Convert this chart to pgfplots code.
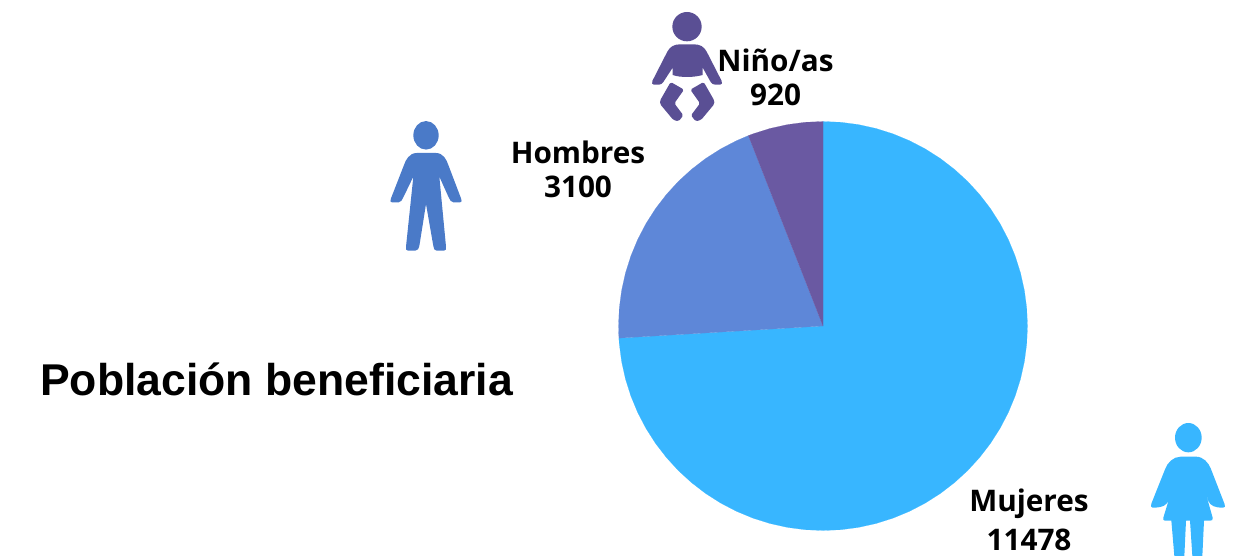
\documentclass[border=0pt]{standalone}
\usepackage{pgfplots}
\pgfplotsset{compat=1.18}
\usepgfplotslibrary{polar}
\usepackage{fontspec}
\setmainfont{Open Sans}
\newfontfamily\titlefont{Liberation Sans}
\definecolor{cMuj}{HTML}{38B6FF}
\definecolor{cHom}{HTML}{5E87D8}
\definecolor{cNin}{HTML}{6A59A2}
\definecolor{iBaby}{HTML}{5A4F94}
\definecolor{iMan}{HTML}{4A7AC8}
\begin{document}
\begin{tikzpicture}
\useasboundingbox (0pt,0pt) rectangle (930.75pt,417pt);
\begin{polaraxis}[
  at={(617.25pt,172.5pt)}, anchor=center,
  scale only axis, width=306.75pt, height=306.75pt,
  hide axis, xmin=0, xmax=360, ymin=0, ymax=1, clip=false]
% Mujeres 11478
\addplot[draw=cMuj, line width=0.1pt, fill=cMuj, mark=none] coordinates {(0,0)(90,1)(85,1)(80,1)(75,1)(70,1)(65,1)(60,1)(55,1)(50,1)(45,1)(40,1)(35,1)(30,1)(25,1)(20,1)(15,1)(10,1)(5,1)(0,1)(355,1)(350,1)(345,1)(340,1)(335,1)(330,1)(325,1)(320,1)(315,1)(310,1)(305,1)(300,1)(295,1)(290,1)(285,1)(280,1)(275,1)(270,1)(265,1)(260,1)(255,1)(250,1)(245,1)(240,1)(235,1)(230,1)(225,1)(220,1)(215,1)(210,1)(205,1)(200,1)(195,1)(190,1)(185,1)(183.4,1)(0,0)};
% Hombres 3100
\addplot[draw=cHom, line width=0.1pt, fill=cHom, mark=none] coordinates {(0,0)(183.4,1)(180,1)(175,1)(170,1)(165,1)(160,1)(155,1)(150,1)(145,1)(140,1)(135,1)(130,1)(125,1)(120,1)(115,1)(111.4,1)(0,0)};
% Ninos 920
\addplot[draw=cNin, line width=0.1pt, fill=cNin, mark=none] coordinates {(0,0)(111.4,1)(110,1)(105,1)(100,1)(95,1)(90,1)(0,0)};
\end{polaraxis}
\begin{scope}[yshift=417pt,x=0.75pt,y=-0.75pt]
% baby icon
\begin{scope}[shift={(630,0)},x=0.25pt,y=-0.25pt]
\fill[iBaby] (171,80) circle[radius=11pt];
\fill[iBaby] (150,133) -- (192,133) .. controls (210,133) and (222,140) .. (230,155) -- (275,243) .. controls (278,250) and (275,254) .. (270,254) -- (255,254) .. controls (248,254) and (245,250) .. (242,246) -- (218,203) -- (218,225) .. controls (190,233) and (150,233) .. (128,225) -- (128,203) -- (100,246) .. controls (97,250) and (94,254) .. (87,254) -- (72,254) .. controls (67,254) and (64,250) .. (67,243) -- (112,155) .. controls (120,140) and (132,133) .. (150,133) -- cycle;
\fill[iBaby,rounded corners=1.2pt] (122,246) -- (162,269) -- (133,310) -- (160,346) -- (146,364) -- (130,360) -- (90,312) -- (90,302) -- cycle;
\fill[iBaby,rounded corners=1.2pt] (221,246) -- (181,269) -- (210,310) -- (183,346) -- (197,364) -- (213,360) -- (253,312) -- (253,302) -- cycle;
\end{scope}
% man icon
\begin{scope}[shift={(380,110)},x=0.25pt,y=-0.25pt]
\fill[iMan] (138,76) ellipse[x radius=9.5pt,y radius=10.7pt];
\fill[iMan] (110,129) -- (168,129) .. controls (190,129) and (200,150) .. (205,165) -- (243,265) .. controls (247,273) and (245,277) .. (240,277) -- (220,277) .. controls (213,277) and (210,270) .. (206,262) -- (178,200) -- (198,410) .. controls (199,418) and (197,422) .. (192,422) -- (170,422) .. controls (163,422) and (161,416) .. (160,408) -- (138,282) -- (118,408) .. controls (117,416) and (113,422) .. (106,422) -- (84,422) .. controls (79,422) and (77,418) .. (78,410) -- (100,200) -- (70,262) .. controls (66,270) and (63,277) .. (56,277) -- (36,277) .. controls (31,277) and (29,273) .. (33,265) -- (72,165) .. controls (77,150) and (88,129) .. (110,129) -- cycle;
\end{scope}
% woman icon
\begin{scope}[shift={(1140,416)},x=0.25pt,y=-0.25pt]
\fill[cMuj] (145,65) ellipse[x radius=10pt,y radius=11pt];
\fill[cMuj] (122,122) -- (168,122) .. controls (190,122) and (205,140) .. (212,157) -- (254,265) .. controls (257,272) and (254,275) .. (249,275) .. controls (225,275) and (212,270) .. (205,255) -- (185,190) -- (218,305) .. controls (220,312) and (216,314) .. (210,314) -- (192,314) -- (187,420) -- (157,420) -- (150,314) -- (138,314) -- (133,420) -- (103,420) -- (94,314) -- (75,314) .. controls (70,314) and (68,310) .. (70,305) -- (105,190) -- (85,255) .. controls (80,265) and (72,275) .. (38,275) .. controls (33,275) and (31,270) .. (34,263) -- (75,160) .. controls (82,140) and (100,122) .. (122,122) -- cycle;
\end{scope}
\node[anchor=base west,inner sep=0pt,font=\titlefont\bfseries\fontsize{33.4}{36}\selectfont] at (40,396) {Población beneficiaria};
\tikzset{lab/.style={anchor=base,inner sep=0pt,font=\bfseries\fontsize{22.3}{24}\selectfont}}
\node[lab] at (775.5,72) {Niño/as};
\node[lab] at (775.5,106) {920};
\node[lab] at (578,164) {Hombres};
\node[lab] at (578,198) {3100};
\node[lab] at (1029,512) {Mujeres};
\node[lab] at (1029,551) {11478};
\end{scope}
\end{tikzpicture}
\end{document}
